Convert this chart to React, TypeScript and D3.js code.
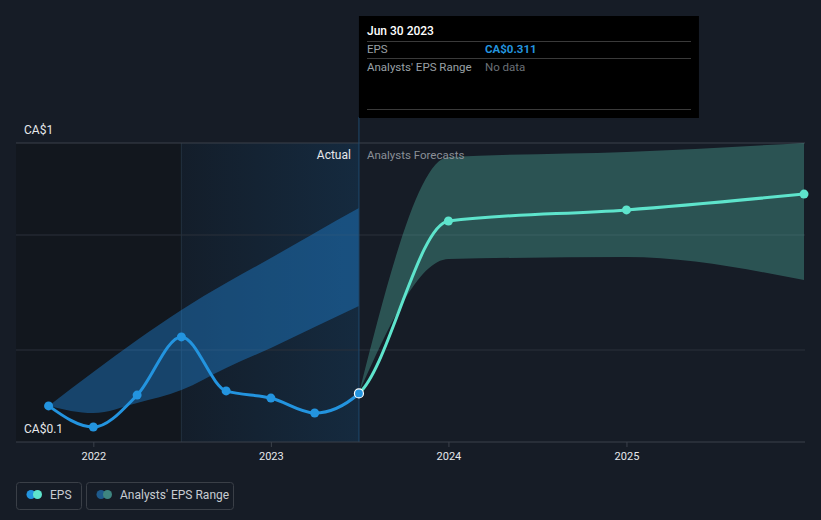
import React, { useEffect } from 'react';
import * as d3 from 'd3';

const actualDates = ['2021-09-30', '2021-12-31', '2022-03-31', '2022-06-30', '2022-09-30', '2022-12-31', '2023-03-31', '2023-06-30'];
const actualEps = [0.257, 0.165, 0.304, 0.557, 0.322, 0.291, 0.226, 0.311];
const pastRangeHigh = [0.257, 0.404, 0.543, 0.674, 0.791, 0.9, 1.009, 1.117];
const pastRangeLow = [0.257, 0.226, 0.27, 0.326, 0.422, 0.509, 0.6, 0.691];
const forecastDates = ['2023-06-30', '2023-12-31', '2024-12-31', '2025-12-31'];
const forecastEps = [0.311, 1.061, 1.109, 1.178];
const forecastHigh = [0.311, 1.339, 1.361, 1.4];
const forecastLow = [0.311, 0.896, 0.904, 0.804];
const yearTicks = ['2022', '2023', '2024', '2025'];
const yLabelValues = [1.4, 0.1];
const yLabelTexts = ['CA$1', 'CA$0.1'];
const gridValues = [0.5, 1.0];
const domainDates = ['2021-07-25', '2026-01-02'];
const shadeStartDate = '2022-06-30';
const todayDate = '2023-06-30';

const W = 821;
const H = 520;
const BG = '#161c26';
const FONT = 'Roboto, "Noto Sans", sans-serif';

export default function App() {
  useEffect(() => {
    document.body.style.margin = '0';
    document.body.style.background = BG;
  }, []);

  const x = d3.scaleUtc().domain(domainDates.map((d) => new Date(d))).range([16, 805]);
  const y = d3.scaleLinear().domain([0.1, 1.4]).range([442, 143]);

  const actual = actualDates.map((d, i) => ({ d: new Date(d), v: actualEps[i], hi: pastRangeHigh[i], lo: pastRangeLow[i] }));
  const forecast = forecastDates.map((d, i) => ({ d: new Date(d), v: forecastEps[i], hi: forecastHigh[i], lo: forecastLow[i] }));
  const all = [...actual, ...forecast.slice(1)];

  const line = d3
    .line<{ d: Date; v: number }>()
    .x((p) => x(p.d))
    .y((p) => y(p.v))
    .curve(d3.curveMonotoneX);
  const band = d3
    .area<{ d: Date; hi: number; lo: number }>()
    .x((p) => x(p.d))
    .y0((p) => y(p.lo))
    .y1((p) => y(p.hi))
    .curve(d3.curveMonotoneX);

  const xShade = x(new Date(shadeStartDate));
  const xToday = x(new Date(todayDate));
  const top = y(1.4);
  const bottom = y(0.1);
  const left = x.range()[0];
  const right = x.range()[1];

  return (
    <svg width={W} height={H} style={{ position: 'absolute', left: 0, top: 0, display: 'block' }} fontFamily={FONT}>
      <defs>
        <linearGradient id="actualShade" x1="0" x2="1" y1="0" y2="0">
          <stop offset="0" stopColor="#2196f3" stopOpacity={0.03} />
          <stop offset="1" stopColor="#2196f3" stopOpacity={0.13} />
        </linearGradient>
        <clipPath id="clipLeft">
          <rect x={0} y={0} width={xToday} height={H} />
        </clipPath>
        <clipPath id="clipRight">
          <rect x={xToday} y={0} width={W - xToday} height={H} />
        </clipPath>
      </defs>
      <rect width={W} height={H} fill={BG} />
      {/* regions */}
      <rect x={left} y={top} width={xShade - left} height={bottom - top} fill="#12171e" />
      <rect x={xShade} y={top} width={xToday - xShade} height={bottom - top} fill="#131a24" />
      <rect x={xShade} y={top} width={xToday - xShade} height={bottom - top} fill="url(#actualShade)" />
      <line x1={xShade} x2={xShade} y1={top} y2={bottom} stroke="#22303f" strokeWidth={1} />

      {/* grid */}
      {gridValues.map((g) => (
        <line key={g} x1={left} x2={right} y1={y(g)} y2={y(g)} stroke="#2a313b" strokeWidth={1} />
      ))}
      <line x1={left} x2={right} y1={top} y2={top} stroke="#3b414b" strokeWidth={1} />

      {/* bands */}
      <path d={band(actual) || ''} fill="#2196f3" fillOpacity={0.36} />
      <path d={band(forecast) || ''} fill="rgb(90,200,180)" fillOpacity={0.32} />

      {/* today line */}
      <line x1={xToday} x2={xToday} y1={117} y2={bottom} stroke="#1f4a6e" strokeWidth={1} />

      {/* lines */}
      <path d={line(all) || ''} fill="none" stroke="#2394df" strokeWidth={3} clipPath="url(#clipLeft)" />
      <path d={line(all) || ''} fill="none" stroke="#5ee4cc" strokeWidth={3} clipPath="url(#clipRight)" />
      {actual.slice(0, -1).map((p, i) => (
        <circle key={'a' + i} cx={x(p.d)} cy={y(p.v)} r={4.5} fill="#2394df" />
      ))}
      {forecast.slice(1).map((p, i) => (
        <circle key={'f' + i} cx={x(p.d)} cy={y(p.v)} r={4.5} fill="#5ee4cc" />
      ))}
      <circle cx={xToday} cy={y(actualEps[actualEps.length - 1])} r={4.5} fill="#2394df" stroke="#ffffff" strokeWidth={1.2} />

      {/* labels */}
      <text x={xToday - 8} y={159} textAnchor="end" fontSize={12} fill="#e6e8eb">Actual</text>
      <text x={xToday + 8} y={159} fontSize={11.5} fill="#8a8f97">Analysts Forecasts</text>
      {yLabelValues.map((v, i) => (
        <text key={v} x={24} y={y(v) - 9} fontSize={12} fill="#e6e8eb">{yLabelTexts[i]}</text>
      ))}

      {/* x axis */}
      <line x1={left} x2={right} y1={bottom} y2={bottom} stroke="#3b414b" strokeWidth={1} />
      {yearTicks.map((t) => {
        const tx = x(new Date(t + '-01-01'));
        return (
          <g key={t}>
            <line x1={tx} x2={tx} y1={bottom} y2={bottom + 5} stroke="#3b414b" />
            <text x={tx} y={460} textAnchor="middle" fontSize={11} fill="#e6e8eb">{t}</text>
          </g>
        );
      })}

      {/* tooltip */}
      <rect x={xToday} y={16} width={340} height={102} fill="#000000" />
      <text x={367} y={35} fontSize={12} fill="#ffffff" fontWeight={500}>Jun 30 2023</text>
      <line x1={367} x2={691} y1={41.5} y2={41.5} stroke="#3a3a3a" />
      <text x={367} y={53} fontSize={11.5} fill="#9aa0a6">EPS</text>
      <text x={485} y={53} fontSize={11.5} fill="#2394df" fontWeight={700}>CA$0.311</text>
      <line x1={367} x2={691} y1={58.5} y2={58.5} stroke="#3a3a3a" />
      <text x={367} y={71} fontSize={11.5} fill="#9aa0a6">Analysts' EPS Range</text>
      <text x={485} y={71} fontSize={11.5} fill="#6b7077">No data</text>
      <line x1={367} x2={691} y1={109.5} y2={109.5} stroke="#3a3a3a" />

      {/* legend */}
      <rect x={16.5} y={482.5} width={65} height={27} rx={3} fill="none" stroke="#3a3f47" />
      <circle cx={31} cy={494.5} r={4.5} fill="#2394df" />
      <circle cx={37.5} cy={494.5} r={4.5} fill="#5ee4cc" />
      <text x={50} y={499} fontSize={12} fill="#c8ccd2">EPS</text>
      <rect x={86.5} y={482.5} width={147} height={27} rx={3} fill="none" stroke="#3a3f47" />
      <circle cx={101} cy={494.5} r={4.5} fill="#1e5a8c" />
      <circle cx={107.5} cy={494.5} r={4.5} fill="#3e8580" />
      <text x={120} y={499} fontSize={12} fill="#c8ccd2">Analysts' EPS Range</text>
    </svg>
  );
}
